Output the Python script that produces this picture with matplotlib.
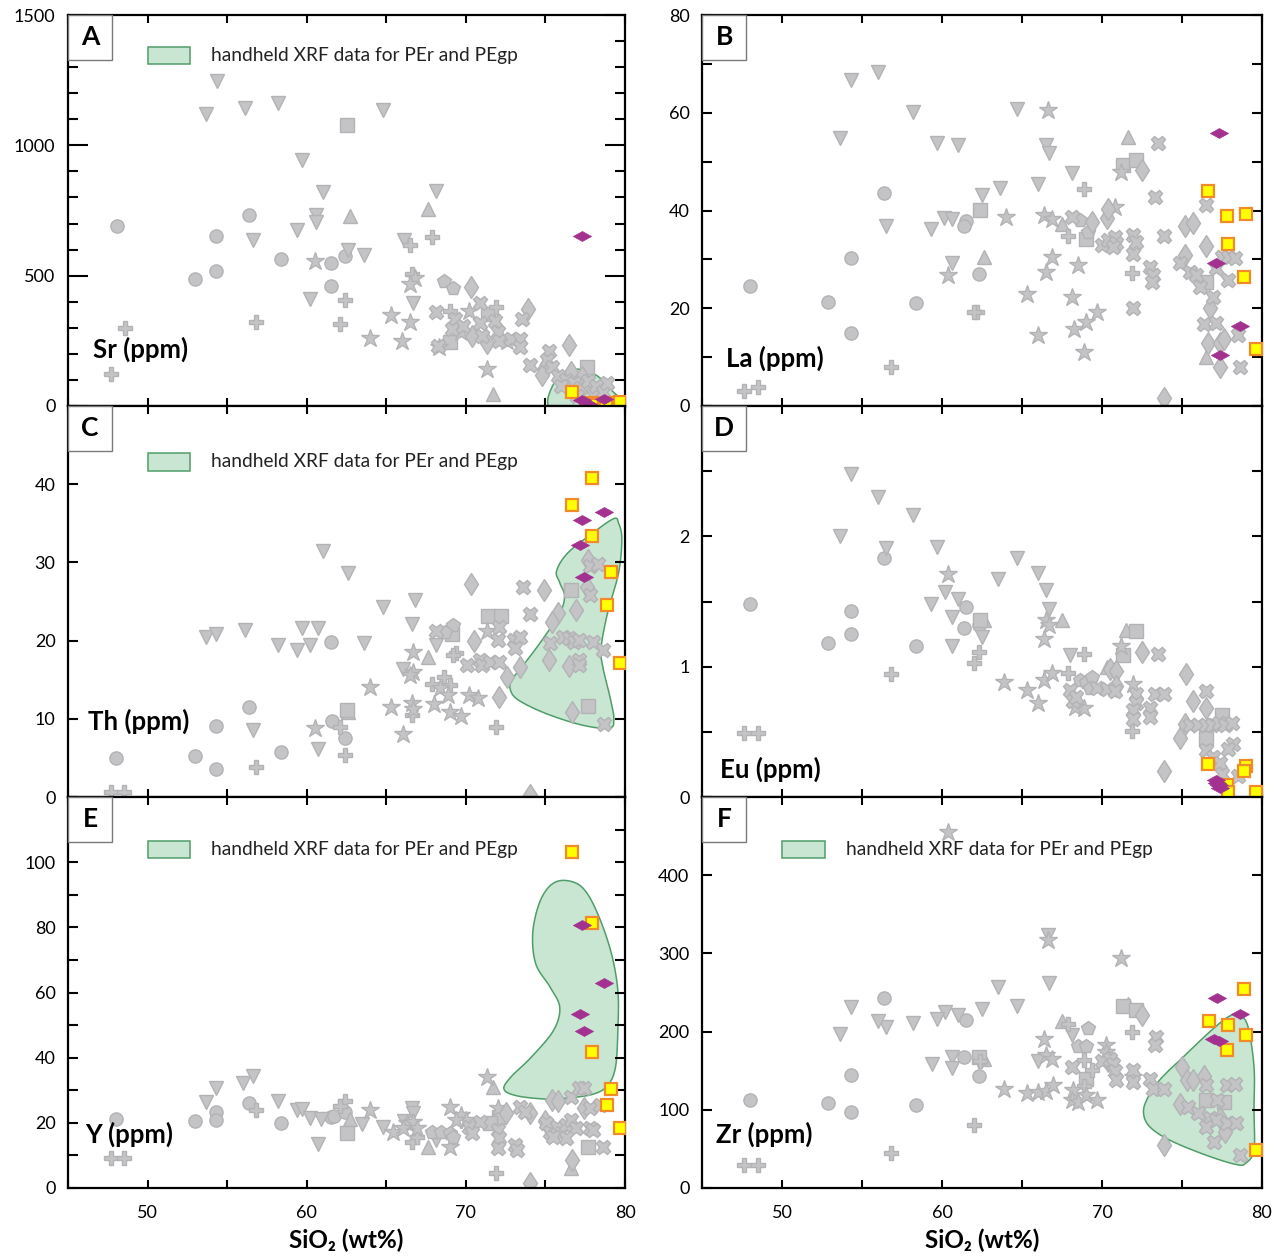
import numpy as np
import matplotlib
matplotlib.use("Agg")
import matplotlib.pyplot as plt
from matplotlib.patches import Rectangle
from matplotlib.ticker import MultipleLocator

plt.rcParams['font.family'] = ['Lato', 'DejaVu Sans']

# ---------------- data (SiO2 wt%, element ppm) ----------------
# A: Sr
sr_circle = [(48.1, 690), (53.0, 486), (54.3, 654), (54.3, 517), (56.4, 732), (58.4, 564), (61.5, 549), (61.5, 459), (62.4, 577)]
sr_vtri = [(54.35, 1247), (53.7, 1119), (56.1, 1144), (58.2, 1163), (64.8, 1135), (59.7, 942), (61.0, 821), (60.6, 733),
           (60.6, 705), (68.1, 823), (59.4, 677), (56.6, 635), (66.1, 636), (62.6, 599), (63.6, 579), (60.2, 410), (66.7, 397)]
sr_utri = [(62.7, 728), (67.6, 754), (71.7, 47)]
sr_square = [(62.5, 1079), (71.4, 353), (69.0, 244), (77.6, 150)]
sr_plus = [(48.6, 299), (47.7, 124), (56.8, 324), (62.4, 408), (62.1, 313), (66.5, 618), (67.9, 649), (69.0, 365),
           (71.9, 378), (66.6, 508)]
sr_star = [(60.5, 555), (65.3, 350), (66.5, 324), (64.0, 259), (66.0, 250), (71.3, 141), (66.8, 490), (66.5, 469),
           (68.3, 225), (70.2, 365), (69.7, 282), (72.6, 250)]
sr_pent = [(68.6, 478), (69.2, 453)]
sr_diamond = [(70.3, 455), (73.9, 372), (76.5, 235), (74.9, 141), (70.4, 269), (71.3, 240), (74.8, 120), (76.6, 130),
              (77.3, 110), (78.0, 60)]
sr_x = [(68.1, 359), (69.3, 333), (69.1, 295), (68.25, 231), (69.8, 308), (70.9, 397), (70.9, 320), (71.0, 269),
        (71.8, 327), (72.0, 282), (72.1, 250), (72.85, 256), (73.4, 256), (73.4, 227), (73.5, 333), (74.0, 158),
        (75.2, 211), (75.1, 175), (75.4, 150), (75.8, 115), (76.3, 100), (76.8, 90), (77.2, 70), (77.7, 95),
        (78.2, 75), (78.6, 55), (78.9, 90), (77.0, 40), (76.0, 75)]
sr_purple = [(77.3, 654), (77.3, 22), (77.7, 8), (78.7, 25)]
sr_yellow = [(76.7, 54), (77.9, 10), (77.9, 4), (79.1, 13), (78.8, 8), (79.7, 17)]
sr_region = [(75.15, 26), (75.5, 83), (76.0, 122), (76.7, 141), (77.6, 135), (78.4, 109), (79.2, 58), (79.75, 26),
             (80.2, -5), (79.2, -15), (76.1, -15), (75.3, -5)]

# B: La
la_circle = [(48.0, 24.5), (52.9, 21.2), (54.3, 30.2), (54.3, 15.0), (56.4, 43.5), (58.4, 21.1), (61.5, 37.9),
             (61.4, 36.8), (62.3, 27.1)]
la_vtri = [(54.3, 66.6), (56.0, 68.4), (53.6, 54.8), (58.2, 60.1), (59.7, 53.9), (61.0, 53.3), (64.7, 60.7), (66.5, 53.4),
           (66.7, 51.7), (68.1, 47.7), (66.0, 45.5), (63.6, 44.7), (62.5, 43.1), (56.5, 36.8), (59.3, 36.3), (60.1, 38.5),
           (60.6, 38.3), (60.6, 29.2)]
la_utri = [(71.6, 55.1), (62.6, 30.5), (67.5, 37.2), (76.5, 10.0)]
la_square = [(62.4, 40.2), (71.3, 49.3), (72.1, 50.4), (69.0, 34.1), (76.5, 25.3)]
la_plus = [(47.6, 3.1), (48.5, 3.8), (56.8, 7.9), (62.2, 19.3), (62.0, 19.3), (68.9, 44.3), (67.9, 34.8), (71.9, 27.3)]
la_star = [(66.6, 60.5), (64.0, 38.6), (66.4, 39.1), (66.9, 38.2), (60.4, 26.8), (71.2, 47.9), (70.8, 40.8), (68.5, 28.8),
           (66.9, 30.5), (66.5, 27.5), (65.3, 22.9), (68.1, 22.4), (69.7, 19.3), (69.0, 17.2), (68.25, 15.7), (66.0, 14.5),
           (68.9, 11.1)]
la_pent = [(68.6, 38.0), (69.1, 35.6)]
la_diamond = [(72.5, 48.3), (69.4, 37.7), (70.3, 38.4), (70.4, 40.4), (75.2, 36.8), (75.7, 37.4), (76.5, 32.7),
              (75.2, 30.9), (76.75, 20.0), (76.6, 12.9), (77.4, 12.9), (77.6, 13.8), (77.4, 8.0), (73.9, 1.6)]
la_x = [(73.5, 53.9), (73.3, 42.7), (76.5, 41.2), (68.1, 38.6), (70.0, 33.0), (70.4, 34.0), (70.8, 34.5), (70.9, 33.3),
        (70.7, 32.5), (71.95, 35.0), (72.1, 33.6), (71.95, 31.2), (73.9, 34.8), (74.9, 29.2), (75.5, 27.5), (75.9, 26.8),
        (76.1, 24.4), (73.0, 28.5), (73.2, 26.8), (73.1, 25.4), (71.95, 20.0), (76.95, 22.4), (76.4, 16.8), (77.1, 16.9),
        (78.6, 8.0), (78.5, 14.5), (77.9, 25.8), (77.1, 28.2), (77.5, 30.4), (77.9, 30.4), (78.3, 30.2)]
la_purple = [(77.3, 55.8), (77.1, 29.3), (78.6, 16.4), (77.4, 10.4)]
la_yellow = [(76.6, 44.0), (77.8, 38.9), (79.0, 39.2), (77.9, 33.1), (78.9, 26.4), (79.6, 11.6)]

# C: Th
th_circle = [(48.0, 5.0), (53.0, 5.3), (54.3, 9.1), (54.3, 3.6), (56.4, 11.5), (58.4, 5.8), (61.5, 19.8), (61.6, 9.7),
             (62.4, 7.6)]
th_vtri = [(61.0, 31.4), (62.6, 28.7), (53.7, 20.4), (54.3, 20.9), (56.1, 21.4), (58.2, 19.5), (59.4, 18.8), (59.7, 21.6),
           (60.7, 21.6), (60.2, 19.4), (63.6, 19.7), (64.8, 24.3), (66.8, 25.2), (66.6, 22.1), (68.1, 19.4), (66.05, 16.4),
           (56.6, 8.6), (60.7, 6.2)]
th_utri = [(67.6, 17.9), (62.6, 10.9)]
th_square = [(62.5, 11.1), (71.4, 23.2), (72.2, 23.2), (69.1, 20.9), (76.6, 26.5), (77.7, 11.7)]
th_pent = [(69.2, 22.0), (68.7, 21.1)]
th_plus = [(47.7, 0.6), (48.5, 0.6), (56.8, 3.8), (62.4, 5.4), (62.1, 8.9), (69.4, 18.4), (69.2, 18.1), (67.9, 14.5),
           (68.6, 15.4), (69.0, 14.3), (71.9, 9.0), (66.6, 10.5)]
th_star = [(60.5, 8.8), (64.0, 14.1), (66.05, 8.1), (65.3, 11.5), (66.7, 18.6), (66.7, 16.0), (66.5, 15.6), (70.2, 13.0),
           (70.75, 12.7), (66.6, 12.0), (66.7, 11.3), (68.0, 11.9), (69.0, 10.9), (69.7, 10.3), (71.3, 21.2), (68.4, 13.9),
           (68.9, 13.0)]
th_diamond = [(70.3, 27.2), (74.9, 26.5), (75.8, 23.5), (75.4, 22.4), (76.9, 23.9), (70.5, 20.0), (75.2, 17.5),
              (76.5, 16.7), (73.4, 16.6), (72.6, 15.3), (72.1, 12.8), (76.7, 10.9), (74.0, 0.3), (77.6, 26.9), (77.7, 30.3)]
th_x = [(73.6, 26.9), (77.8, 25.8), (77.8, 29.6), (78.3, 29.8), (74.0, 23.4), (68.1, 21.2), (72.1, 21.8), (72.0, 20.1),
        (73.0, 20.05), (73.4, 20.5), (73.1, 19.1), (75.3, 19.7), (76.1, 20.5), (76.5, 20.3), (76.8, 19.8), (77.1, 20.1),
        (78.0, 19.8), (78.6, 18.8), (77.1, 17.5), (77.1, 16.9), (70.1, 16.9), (70.9, 17.5), (71.0, 16.9), (71.5, 17.3),
        (72.1, 17.3), (78.7, 9.3)]
th_purple = [(77.3, 35.4), (78.7, 36.5), (77.2, 32.2), (77.45, 28.1)]
th_yellow = [(77.9, 40.8), (76.7, 37.4), (77.9, 33.4), (79.1, 28.8), (78.9, 24.5), (79.7, 17.1)]
th_region = [(79.3, 35.6), (78.0, 33.8), (76.4, 31.2), (75.7, 28.9), (75.9, 27.4), (76.2, 25.7), (75.9, 23.5),
             (74.8, 20.1), (73.7, 17.1), (72.9, 15.0), (72.8, 13.7), (73.3, 12.4), (75.0, 10.7), (77.3, 9.2),
             (79.0, 8.8), (79.3, 9.9), (79.1, 12.4), (78.6, 16.7), (78.5, 19.1), (78.9, 23.5), (79.6, 28.7),
             (79.8, 33.0), (79.6, 35.0)]

# D: Eu
eu_circle = [(48.0, 1.48), (56.4, 1.83), (54.3, 1.43), (54.3, 1.25), (52.9, 1.18), (58.4, 1.16), (61.5, 1.46),
             (61.4, 1.30), (62.3, 1.32)]
eu_vtri = [(54.3, 2.48), (53.6, 2.0), (56.0, 2.30), (58.2, 2.16), (56.5, 1.91), (59.7, 1.92), (60.2, 1.57), (61.0, 1.52),
           (59.3, 1.48), (60.6, 1.38), (62.5, 1.23), (60.6, 1.16), (63.5, 1.67), (64.7, 1.83), (66.0, 1.72), (66.5, 1.59),
           (66.7, 1.44), (68.0, 1.09)]
eu_utri = [(67.5, 1.36), (62.6, 1.36), (71.5, 1.28), (70.3, 1.0)]
eu_square = [(62.4, 1.36), (72.1, 1.27), (71.3, 1.09), (77.5, 0.63), (76.5, 0.45)]
eu_plus = [(47.6, 0.49), (48.5, 0.49), (56.8, 0.94), (62.3, 1.11), (62.0, 1.03), (68.9, 1.10), (67.9, 0.95), (71.9, 0.51)]
eu_star = [(60.4, 1.71), (66.5, 1.36), (66.7, 1.32), (66.4, 1.21), (63.9, 0.88), (65.3, 0.82), (66.0, 0.72), (66.4, 0.90),
           (66.9, 0.95), (71.2, 1.16), (71.95, 0.87), (68.9, 0.68), (68.3, 0.69)]
eu_pent = [(68.6, 0.90), (69.0, 0.88), (69.4, 0.92), (69.25, 0.84)]
eu_diamond = [(72.5, 1.11), (70.5, 0.98), (70.9, 0.97), (75.25, 0.94), (75.7, 0.74), (76.5, 0.68), (74.9, 0.45),
              (73.9, 0.20), (70.9, 0.85), (75.2, 0.56)]
eu_x = [(73.5, 1.10), (68.0, 0.82), (68.2, 0.74), (68.4, 0.77), (69.7, 0.84), (70.3, 0.83), (70.8, 0.81), (72.1, 0.79),
        (72.1, 0.72), (71.95, 0.67), (71.95, 0.60), (73.0, 0.68), (73.0, 0.61), (73.3, 0.79), (73.9, 0.79), (76.5, 0.81),
        (75.5, 0.55), (76.0, 0.55), (76.5, 0.55), (76.9, 0.55), (77.3, 0.57), (77.7, 0.55), (78.1, 0.57), (76.5, 0.36),
        (76.95, 0.31), (77.4, 0.26), (78.2, 0.41), (77.9, 0.37), (78.5, 0.16), (77.5, 0.18)]
eu_purple = [(77.1, 0.13), (77.3, 0.09), (77.4, 0.07), (77.2, 0.11)]
eu_yellow = [(76.6, 0.25), (79.0, 0.24), (78.9, 0.20), (77.8, 0.09), (77.9, 0.04), (79.6, 0.04)]

# E: Y
y_circle = [(48.0, 21.1), (53.0, 20.6), (54.3, 23.2), (54.3, 20.8), (56.4, 26.0), (58.4, 19.8), (61.5, 21.9), (61.7, 22.2),
            (62.4, 23.2)]
y_vtri = [(56.6, 34.4), (56.0, 32.1), (54.3, 30.8), (53.7, 26.5), (58.2, 26.7), (59.4, 23.9), (59.7, 24.2), (60.2, 21.6),
          (60.9, 21.1), (60.7, 13.6), (63.5, 19.6), (64.8, 18.8), (66.1, 20.6), (66.6, 24.4), (66.7, 22.9), (68.1, 14.7)]
y_utri = [(62.7, 21.1), (67.6, 12.7), (71.7, 30.9), (76.6, 6.0)]
y_square = [(62.5, 16.8), (77.7, 12.7), (72.1, 21.9), (71.5, 19.8)]
y_plus = [(47.7, 9.3), (48.5, 9.3), (56.8, 23.9), (62.4, 26.7), (62.1, 25.2), (66.6, 14.2), (66.9, 15.7), (71.9, 4.7)]
y_star = [(64.0, 23.9), (65.4, 17.3), (71.3, 34.0), (66.3, 19.8), (66.7, 20.3), (66.9, 18.3), (69.0, 12.7), (69.0, 24.9),
          (69.7, 22.4), (70.0, 20.9), (69.4, 20.9), (72.0, 24.4), (66.05, 18.3)]
y_pent = [(67.9, 17.3), (68.45, 17.3), (69.0, 16.8), (69.2, 15.7)]
y_diamond = [(74.0, 1.4), (72.5, 22.9), (75.4, 27.0), (75.8, 26.8), (76.7, 8.6), (77.45, 24.4), (74.0, 22.9), (75.0, 20.6)]
y_x = [(70.2, 18.8), (70.9, 20.3), (70.4, 16.8), (72.0, 17.8), (72.1, 15.2), (72.0, 12.2), (73.1, 13.2), (73.2, 11.7),
       (73.4, 24.9), (73.7, 23.4), (76.6, 28.0), (77.1, 30.6), (77.45, 30.6), (75.05, 19.8), (75.3, 17.3), (75.7, 18.8),
       (76.0, 16.8), (76.3, 19.3), (76.6, 20.9), (76.9, 18.3), (76.3, 15.2), (75.5, 15.7), (77.8, 24.4), (78.4, 25.5),
       (77.8, 18.3), (78.0, 17.8), (78.6, 12.7)]
y_purple = [(77.3, 80.8), (78.7, 62.8), (77.2, 53.4), (77.4, 48.1)]
y_yellow = [(76.7, 103.1), (77.9, 81.4), (77.9, 41.6), (79.1, 30.5), (78.9, 25.4), (79.7, 18.3)]
y_region = [(76.2, 94.4), (77.3, 92.3), (78.2, 85.1), (79.1, 72.8), (79.55, 60.6), (79.55, 48.3), (79.4, 37.0),
            (78.9, 31.4), (78.0, 28.8), (76.4, 27.6), (75.0, 27.3), (73.2, 28.3), (72.4, 30.3), (72.8, 33.9),
            (74.1, 40.1), (75.5, 48.3), (75.9, 55.4), (75.3, 61.6), (74.4, 68.7), (74.2, 78.0), (74.6, 87.2),
            (75.3, 92.8)]

# F: Zr
zr_circle = [(48.0, 112), (52.9, 109), (54.3, 97), (54.3, 144), (56.4, 243), (58.4, 106), (61.5, 215), (61.4, 168),
             (62.3, 143)]
zr_vtri = [(66.6, 323), (66.7, 262), (63.5, 257), (64.7, 233), (62.5, 229), (61.0, 221), (60.2, 225), (59.7, 216),
           (58.2, 211), (56.5, 206), (56.0, 214), (54.3, 232), (53.6, 197), (59.4, 159), (60.6, 167), (60.6, 153),
           (66.0, 162), (68.1, 196)]
zr_utri = [(67.5, 213), (62.6, 165), (71.6, 235)]
zr_square = [(71.3, 233), (72.1, 228), (69.0, 140), (76.5, 113), (77.6, 110), (62.3, 167)]
zr_plus = [(47.6, 29), (48.5, 29), (56.8, 45), (62.0, 80), (62.4, 163), (67.9, 210), (71.85, 199), (68.9, 164),
           (69.4, 151), (68.9, 130)]
zr_star = [(60.4, 455), (66.6, 317), (71.2, 294), (66.4, 190), (63.9, 126), (65.3, 121), (66.0, 123), (66.5, 124),
           (66.95, 132), (68.2, 125), (68.1, 113), (68.5, 110), (69.0, 119), (69.7, 113), (70.25, 183), (70.25, 174),
           (66.5, 170), (66.9, 165), (71.95, 142)]
zr_pent = [(69.1, 205), (68.5, 182), (69.0, 182)]
zr_diamond = [(72.5, 221), (73.9, 55), (75.0, 155), (75.3, 138), (75.7, 138), (76.4, 143), (74.9, 108), (77.4, 89),
              (77.7, 72), (70.4, 163)]
zr_x = [(73.4, 193), (73.3, 183), (68.1, 155), (70.0, 162), (70.5, 165), (70.7, 159), (70.8, 149), (70.9, 138),
        (71.95, 151), (71.95, 136), (73.0, 140), (73.2, 127), (73.9, 127), (76.5, 132), (77.8, 132), (78.3, 133),
        (77.2, 113), (75.4, 104), (76.0, 96), (76.75, 89), (77.1, 87), (77.8, 83), (78.4, 83), (76.5, 78), (77.0, 59),
        (78.6, 42)]
zr_purple = [(77.2, 243), (78.6, 223), (77.3, 188), (77.0, 190)]
zr_yellow = [(78.9, 255), (76.7, 213), (77.9, 208), (79.0, 196), (77.8, 176), (79.6, 48)]
zr_region = [(78.5, 221), (79.1, 208), (79.5, 155), (79.5, 100), (79.5, 49), (79.0, 32), (78.4, 30), (76.5, 42),
             (74.25, 61), (73.0, 78), (72.6, 95), (72.8, 113), (73.6, 138), (75.1, 168), (76.75, 200), (77.9, 219)]

legend_text = "handheld XRF data for PEr and PEgp"

# ---------------- styles ----------------
GREY = '#c4c4c6'
GREY_EDGE = '#b3b3b6'
PURPLE = '#a2318f'
YELLOW = '#ffff00'
ORANGE = '#f28a2a'
GREEN_FILL = '#c9e6d3'
GREEN_EDGE = '#4f9d68'
marker_size = {'o': 9.5, 'v': 10.5, '^': 10.5, 's': 9.5, 'P': 10.5, '*': 13.5, 'X': 10.5, 'd': 11.5, 'p': 10.5}
flat_diamond = [(-1, 0), (0, 0.55), (1, 0), (0, -0.55), (-1, 0)]


def smooth_closed(pts, n=30):
    # closed Catmull-Rom curve through the outline points
    p = np.asarray(pts, float)
    k = len(p)
    t = np.linspace(0, 1, n, endpoint=False)[:, None]
    segs = []
    for i in range(k):
        p0, p1, p2, p3 = p[(i - 1) % k], p[i], p[(i + 1) % k], p[(i + 2) % k]
        segs.append(0.5 * (2 * p1 + (-p0 + p2) * t + (2 * p0 - 5 * p1 + 4 * p2 - p3) * t ** 2
                           + (-p0 + 3 * p1 - 3 * p2 + p3) * t ** 3))
    return np.vstack(segs)


def draw_panel(ax, groups, purple, yellow, region=None):
    if region is not None:
        c = smooth_closed(region)
        ax.fill(c[:, 0], c[:, 1], facecolor=GREEN_FILL, edgecolor=GREEN_EDGE, lw=1.1, zorder=1)
    for m, pts in groups:
        xs, ys = zip(*pts)
        ax.plot(xs, ys, ls='none', marker=m, ms=marker_size[m], mfc=GREY, mec=GREY_EDGE, mew=1.0, zorder=2)
    xs, ys = zip(*yellow)
    ax.plot(xs, ys, ls='none', marker='s', ms=9, mfc=YELLOW, mec=ORANGE, mew=1.6, zorder=3)
    xs, ys = zip(*purple)
    ax.plot(xs, ys, ls='none', marker=flat_diamond, ms=13, mfc=PURPLE, mec=PURPLE, mew=0.5, zorder=4)


def setup_axes(ax, letter, label, label_pos, top, step, minor, show_top, bottom_row, long_major=False):
    ax.set_xlim(45, 80)
    ax.set_ylim(0, top)
    ticks = np.arange(0, top + step / 2, step)
    ax.set_yticks(ticks)
    fmt = [('%g' % v) if (show_top or v < top - step / 2) else '' for v in ticks]
    ax.set_yticklabels(fmt)
    if minor:
        ax.yaxis.set_minor_locator(MultipleLocator(minor))
    ax.xaxis.set_major_locator(MultipleLocator(10))
    ax.xaxis.set_minor_locator(MultipleLocator(5))
    ax.tick_params(which='both', direction='in', top=True, right=True, width=1.5, labelsize=13, pad=9)
    ax.tick_params(axis='x', which='both', length=6, pad=12)
    if long_major:
        ax.tick_params(axis='y', which='major', length=14.5)
        ax.tick_params(axis='y', which='minor', length=7.5)
    else:
        ax.tick_params(axis='y', which='both', length=7.5)
    if not bottom_row:
        ax.tick_params(axis='x', labelbottom=False)
    for s in ax.spines.values():
        s.set_linewidth(1.6)
    # letter box
    ax.add_patch(Rectangle((0, 1 - 0.115), 0.079, 0.115, transform=ax.transAxes, facecolor='white',
                           edgecolor='#7a7a7a', lw=1.0, zorder=5, clip_on=False))
    ax.text(0.0395, 1 - 0.0575, letter, transform=ax.transAxes, ha='center', va='center',
            fontsize=19, fontweight='bold', zorder=6)
    ax.text(label_pos[0], label_pos[1], label, transform=ax.transAxes, ha='left', va='center',
            fontsize=18.5, fontweight='bold', zorder=6)


def add_legend(ax, y0):
    ax.add_patch(Rectangle((0.1436, y0), 0.0754, 0.045, transform=ax.transAxes, facecolor=GREEN_FILL,
                           edgecolor=GREEN_EDGE, lw=1.1, zorder=5))
    ax.text(0.2575, y0 + 0.023, legend_text, transform=ax.transAxes, ha='left', va='center',
            fontsize=13.8, color='#222222', zorder=6)


fig = plt.figure(figsize=(12.84, 12.58), dpi=100)
W, H = 1284.0, 1258.0
lefts = [68 / W, 702 / W]
widths = [557 / W, 560 / W]
bottoms = [1 - 406 / H, 1 - 797 / H, 1 - 1188 / H]
height = 391 / H
axs = [[fig.add_axes([lefts[c], bottoms[r], widths[c], height]) for c in range(2)] for r in range(3)]

# A
ax = axs[0][0]
draw_panel(ax, [('o', sr_circle), ('v', sr_vtri), ('^', sr_utri), ('s', sr_square), ('P', sr_plus), ('*', sr_star),
                ('p', sr_pent), ('d', sr_diamond), ('X', sr_x)], sr_purple, sr_yellow, sr_region)
setup_axes(ax, 'A', 'Sr (ppm)', (0.045, 0.146), 1500, 500, 100, True, False, long_major=True)
add_legend(ax, 0.874)

# B
ax = axs[0][1]
draw_panel(ax, [('o', la_circle), ('v', la_vtri), ('^', la_utri), ('s', la_square), ('P', la_plus), ('*', la_star),
                ('p', la_pent), ('d', la_diamond), ('X', la_x)], la_purple, la_yellow)
setup_axes(ax, 'B', 'La (ppm)', (0.043, 0.123), 80, 20, 10, True, False)

# C
ax = axs[1][0]
draw_panel(ax, [('o', th_circle), ('v', th_vtri), ('^', th_utri), ('s', th_square), ('P', th_plus), ('*', th_star),
                ('p', th_pent), ('d', th_diamond), ('X', th_x)], th_purple, th_yellow, th_region)
setup_axes(ax, 'C', 'Th (ppm)', (0.036, 0.194), 50, 10, None, False, False)
add_legend(ax, 0.835)

# D
ax = axs[1][1]
draw_panel(ax, [('o', eu_circle), ('v', eu_vtri), ('^', eu_utri), ('s', eu_square), ('P', eu_plus), ('*', eu_star),
                ('p', eu_pent), ('d', eu_diamond), ('X', eu_x)], eu_purple, eu_yellow)
setup_axes(ax, 'D', 'Eu (ppm)', (0.032, 0.072), 3, 1, 0.5, False, False)

# E
ax = axs[2][0]
draw_panel(ax, [('o', y_circle), ('v', y_vtri), ('^', y_utri), ('s', y_square), ('P', y_plus), ('*', y_star),
                ('p', y_pent), ('d', y_diamond), ('X', y_x)], y_purple, y_yellow, y_region)
setup_axes(ax, 'E', 'Y (ppm)', (0.030, 0.136), 120, 20, 10, False, True)
add_legend(ax, 0.843)

# F
ax = axs[2][1]
draw_panel(ax, [('o', zr_circle), ('v', zr_vtri), ('^', zr_utri), ('s', zr_square), ('P', zr_plus), ('*', zr_star),
                ('p', zr_pent), ('d', zr_diamond), ('X', zr_x)], zr_purple, zr_yellow, zr_region)
setup_axes(ax, 'F', 'Zr (ppm)', (0.025, 0.136), 500, 100, None, False, True)
add_legend(ax, 0.843)

for ax in axs[2]:
    ax.set_xlabel('SiO₂ (wt%)', fontsize=17.5, fontweight='bold', labelpad=6)

fig.savefig('out.png', dpi=100)
